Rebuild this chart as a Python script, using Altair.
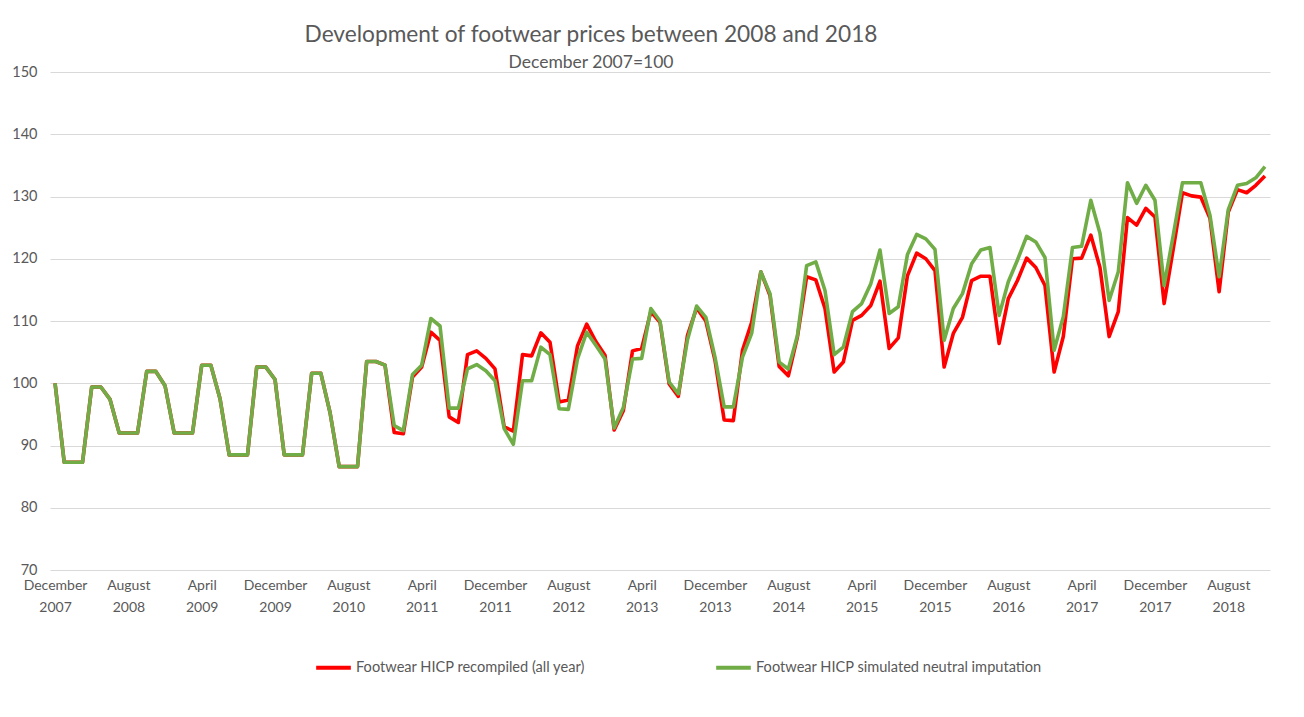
import json
import altair as alt
import pandas as pd

# Monthly index values, December 2007 = 100 (Dec 2007 ... Dec 2018)
recompiled = [
    100.0, 87.3, 87.3, 87.3, 99.4, 99.4, 97.4, 92.0, 92.0, 92.0, 101.9, 101.9,
    99.6, 92.0, 92.0, 92.0, 102.9, 102.9, 97.5, 88.5, 88.5, 88.5, 102.6, 102.6,
    100.6, 88.5, 88.5, 88.5, 101.6, 101.6, 95.3, 86.6, 86.6, 86.6, 103.5, 103.5,
    102.9, 92.1, 91.9, 101.0, 102.6, 108.2, 106.9, 94.6, 93.7, 104.6, 105.2, 104.0,
    102.3, 93.0, 92.3, 104.6, 104.4, 108.1, 106.6, 97.0, 97.3, 106.0, 109.5, 106.7,
    104.5, 92.5, 95.6, 105.2, 105.6, 111.5, 109.8, 99.9, 97.9, 107.7, 112.1, 110.0,
    103.7, 94.1, 94.0, 105.3, 109.8, 117.9, 114.1, 102.7, 101.2, 107.5, 117.1, 116.6,
    112.0, 101.8, 103.4, 110.1, 110.9, 112.5, 116.4, 105.6, 107.3, 117.3, 120.9, 120.0,
    118.1, 102.6, 108.0, 110.6, 116.5, 117.2, 117.2, 106.4, 113.6, 116.5, 120.1, 118.6,
    115.7, 101.8, 107.5, 120.0, 120.1, 123.8, 118.6, 107.5, 111.5, 126.6, 125.4, 128.1,
    126.7, 112.8, 121.6, 130.6, 130.1, 129.9, 126.5, 114.7, 127.5, 131.1, 130.6, 131.8,
    133.3,
]
simulated = [
    100.0, 87.3, 87.3, 87.3, 99.4, 99.4, 97.4, 92.0, 92.0, 92.0, 101.9, 101.9,
    99.6, 92.0, 92.0, 92.0, 102.9, 102.9, 97.5, 88.5, 88.5, 88.5, 102.6, 102.6,
    100.6, 88.5, 88.5, 88.5, 101.6, 101.6, 95.3, 86.6, 86.6, 86.6, 103.5, 103.5,
    102.9, 93.2, 92.4, 101.4, 102.9, 110.4, 109.2, 96.0, 96.0, 102.3, 103.0, 102.0,
    100.4, 92.7, 90.2, 100.4, 100.4, 105.8, 104.6, 95.9, 95.8, 103.9, 108.2, 106.1,
    103.9, 92.8, 96.1, 103.9, 104.0, 112.0, 110.0, 100.2, 98.3, 107.0, 112.4, 110.6,
    104.2, 96.2, 96.2, 104.2, 108.0, 117.9, 114.4, 103.4, 102.3, 107.7, 118.9, 119.5,
    114.9, 104.6, 105.8, 111.5, 112.8, 116.0, 121.4, 111.2, 112.3, 120.7, 123.9, 123.2,
    121.5, 106.9, 112.0, 114.4, 119.2, 121.4, 121.8, 110.9, 116.3, 119.8, 123.6, 122.7,
    120.2, 105.3, 110.7, 121.8, 122.0, 129.4, 124.1, 113.3, 117.9, 132.2, 128.9, 131.8,
    129.4, 115.7, 123.8, 132.2, 132.2, 132.2, 127.0, 117.1, 127.9, 131.8, 132.1, 133.0,
    134.8,
]

tick_months = ["December", "August", "April", "December", "August", "April",
               "December", "August", "April", "December", "August", "April",
               "December", "August", "April", "December", "August"]
tick_years = ["2007", "2008", "2009", "2009", "2010", "2011", "2011", "2012",
              "2013", "2013", "2014", "2015", "2015", "2016", "2017", "2017", "2018"]
tick_positions = [8 * i for i in range(len(tick_months))]

y_ticks = [70, 80, 90, 100, 110, 120, 130, 140, 150]

name_red = "Footwear HICP recompiled (all year)"
name_green = "Footwear HICP simulated neutral imputation"

df = pd.concat([
    pd.DataFrame({"m": range(len(recompiled)), "v": recompiled, "series": name_red}),
    pd.DataFrame({"m": range(len(simulated)), "v": simulated, "series": name_green}),
])

FONT = "Lato"
TXT = "#595959"

label_expr = "[{}[round(datum.value/8)], {}[round(datum.value/8)]]".format(
    json.dumps(tick_months).replace('"', "'"), json.dumps(tick_years).replace('"', "'"))

color = alt.Color(
    "series:N",
    scale=alt.Scale(domain=[name_red, name_green], range=["#ff0000", "#70ad47"]),
    legend=alt.Legend(
        title=None, orient="none", legendX=264, legendY=576, direction="horizontal",
        columns=2, columnPadding=122, symbolType="stroke", symbolSize=1200,
        symbolStrokeWidth=4, labelFont=FONT, labelFontSize=14.6, labelColor=TXT,
        labelOffset=3, labelLimit=400,
    ),
)

x = alt.X("m:Q", scale=alt.Scale(domain=[-0.55, 132.55], nice=False, zero=False),
          axis=alt.Axis(values=tick_positions, labelExpr=label_expr, grid=False,
                        domain=False, ticks=False, labelFont=FONT, labelFontSize=14,
                        labelColor=TXT, labelPadding=8, labelLineHeight=22,
                        labelFlush=False, labelOverlap=False, title=None))
y = alt.Y("v:Q", scale=alt.Scale(domain=[70, 150], nice=False, zero=False),
          axis=alt.Axis(values=y_ticks, grid=True, gridColor="#d9d9d9", gridWidth=1.2,
                        domain=False, ticks=False, labelFont=FONT, labelFontSize=14.5,
                        labelColor=TXT, labelPadding=13, title=None))

base = alt.Chart(df).mark_line(strokeWidth=3.6, strokeJoin="round").encode(
    x=x, y=y, color=color)

red = base.transform_filter(alt.datum.series == name_red)
green = base.transform_filter(alt.datum.series == name_green)

chart = alt.layer(red, green).properties(
    width=1220, height=498,
    autosize=alt.AutoSizeParams(type="none"),
    padding={"left": 42, "top": 64, "right": 20, "bottom": 130},
    title=alt.Title(
        "Development of footwear prices between 2008 and 2018",
        subtitle="December 2007=100", anchor="middle", dx=-69, dy=12, offset=5,
        font=FONT, fontSize=22.7, fontWeight="normal", color=TXT,
        subtitleFont=FONT, subtitleFontSize=17.5, subtitleColor=TXT, subtitlePadding=7,
    ),
).configure_view(stroke=None)

chart.save("out.html", embed_options={"renderer": "svg", "actions": False})
